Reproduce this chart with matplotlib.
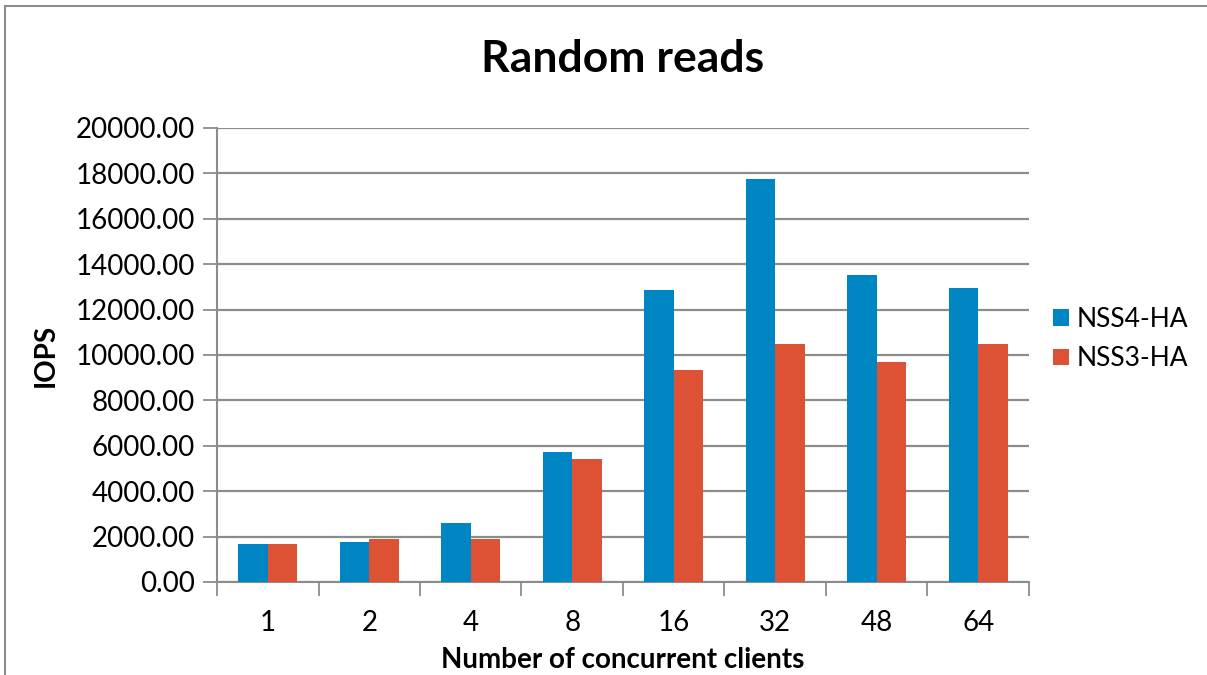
import matplotlib
matplotlib.use("Agg")
import matplotlib.pyplot as plt
import numpy as np
from matplotlib.patches import Rectangle

categories = ["1", "2", "4", "8", "16", "32", "48", "64"]
nss4_ha = [1684, 1772, 2592, 5725, 12884, 17760, 13514, 12943]
nss3_ha = [1654, 1903, 1903, 5417, 9327, 10469, 9693, 10469]
series_names = ["NSS4-HA", "NSS3-HA"]
y_ticks = [0, 2000, 4000, 6000, 8000, 10000, 12000, 14000, 16000, 18000, 20000]

BLUE = "#0085C3"
RED = "#DD5235"
GRID = "#8C8C8C"

plt.rcParams["font.family"] = ["Lato", "DejaVu Sans"]

fig = plt.figure(figsize=(12.07, 6.75), dpi=100)
ax = fig.add_axes([0.1798, 0.1378, 0.8525 - 0.1798, 0.8104 - 0.1378])

# outer chart border
fig.patches.append(Rectangle((5 / 1207, -0.01), 1.2, 1 - 6 / 675 + 0.01,
                             transform=fig.transFigure, fill=False,
                             edgecolor="#8C8C8C", linewidth=1.5))

x = np.arange(len(categories))
w = 0.29
ax.bar(x - w / 2, nss4_ha, width=w, color=BLUE, label=series_names[0], zorder=3)
ax.bar(x + w / 2, nss3_ha, width=w, color=RED, label=series_names[1], zorder=3)

ax.set_xlim(-0.5, len(categories) - 0.5)
ax.set_ylim(0, 20000)
ax.set_yticks(y_ticks)
ax.set_yticklabels([f"{v:.2f}" for v in y_ticks])
ax.yaxis.grid(True, color=GRID, linewidth=1.6, zorder=0)
ax.set_axisbelow(True)

# category labels centred, tick marks between categories
ax.set_xticks(x)
ax.set_xticklabels(categories)
ax.set_xticks(np.arange(-0.5, len(categories)), minor=True)
ax.tick_params(axis="x", which="major", length=0, pad=20, labelsize=20)
ax.tick_params(axis="x", which="minor", length=10, width=1.3, color=GRID, direction="out")
ax.tick_params(axis="y", length=10, width=1.3, color=GRID, labelsize=20, pad=6)

for side in ["top", "right"]:
    ax.spines[side].set_visible(False)
for side in ["left", "bottom"]:
    ax.spines[side].set_color(GRID)
    ax.spines[side].set_linewidth(1.5)

ax.set_title("Random reads", fontsize=32, fontweight="bold", pad=40)
ax.set_ylabel("IOPS", fontsize=20, fontweight="bold", labelpad=12)
ax.set_xlabel("Number of concurrent clients", fontsize=20, fontweight="bold", labelpad=8)

ax.legend(loc="center left", bbox_to_anchor=(1.0, 0.535), frameon=False,
          fontsize=19, handlelength=0.6, handleheight=0.6, handletextpad=0.3,
          labelspacing=0.55)

fig.savefig("out.png", dpi=100, facecolor="white")
